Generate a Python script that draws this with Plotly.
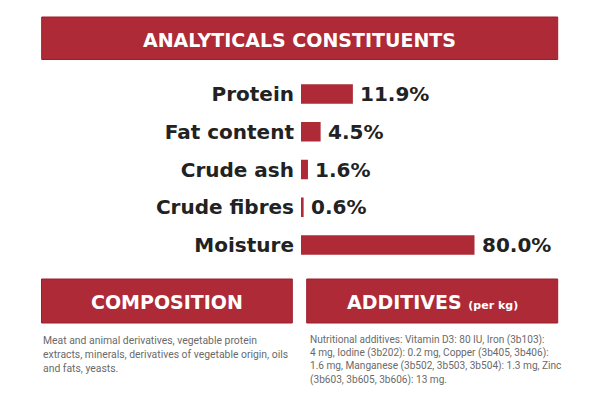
import plotly.graph_objects as go

# ---- data ----
categories = ["Protein", "Fat content", "Crude ash", "Crude fibres", "Moisture"]
values = [11.9, 4.5, 1.6, 0.6, 80.0]
value_labels = ["11.9%", "4.5%", "1.6%", "0.6%", "80.0%"]
title_main = "ANALYTICALS CONSTITUENTS"
title_comp = "COMPOSITION"
title_add = "ADDITIVES"
title_add_sub = "(per kg)"
comp_lines = [
    "Meat and animal derivatives, vegetable protein",
    "extracts, minerals, derivatives of vegetable origin, oils",
    "and fats, yeasts.",
]
add_lines = [
    "Nutritional additives: Vitamin D3: 80 IU, Iron (3b103):",
    "4 mg, Iodine (3b202): 0.2 mg, Copper (3b405, 3b406):",
    "1.6 mg, Manganese (3b502, 3b503, 3b504): 1.3 mg, Zinc",
    "(3b603, 3b605, 3b606): 13 mg.",
]

RED = "#AE2A37"
EDGE = "#9C1E2D"
DARK = "#222222"
GREY = "#6A6A6A"
W, H = 600, 400
XMAX = 39.8

def px(x):
    return x / W

def py(y):
    return 1 - y / H

fig = go.Figure()
fig.add_trace(go.Bar(
    x=values, y=categories, orientation="h",
    marker=dict(color=RED, line=dict(width=0)),
    width=0.52, hoverinfo="skip",
))

# value labels
for c, v, t in zip(categories, values, value_labels):
    fig.add_annotation(
        x=min(v, XMAX), y=c, xref="x", yref="y", text=t, showarrow=False,
        xanchor="left", yanchor="middle", xshift=5,
        font=dict(family="DejaVu Sans", size=20, color=DARK, weight="bold"),
    )

shapes = []
for (x0, y0, x1, y1) in [(41.7, 17, 557.7, 59.5), (41.5, 279, 292.3, 323), (306.7, 279, 557.7, 323)]:
    shapes.append(dict(type="rect", xref="paper", yref="paper",
                       x0=px(x0), x1=px(x1), y0=py(y1), y1=py(y0),
                       fillcolor=RED, line=dict(color=EDGE, width=1), layer="below"))

fig.add_annotation(x=px(299.7), y=py(39.5), xref="paper", yref="paper", text=title_main,
                   showarrow=False, xanchor="center", yanchor="middle",
                   font=dict(family="DejaVu Sans", size=19, color="white", weight="bold"))
fig.add_annotation(x=px(167), y=py(302), xref="paper", yref="paper", text=title_comp,
                   showarrow=False, xanchor="center", yanchor="middle",
                   font=dict(family="DejaVu Sans", size=19, color="white", weight="bold"))
fig.add_annotation(x=px(432.3), y=py(302), xref="paper", yref="paper",
                   text=title_add + " <span style='font-size:11px'>" + title_add_sub + "</span>",
                   showarrow=False, xanchor="center", yanchor="middle",
                   font=dict(family="DejaVu Sans", size=19, color="white", weight="bold"))

for i, line in enumerate(comp_lines):
    fig.add_annotation(x=px(41), y=py(340 + i * 14.3), xref="paper", yref="paper", text=line,
                       showarrow=False, xanchor="left", yanchor="middle",
                       font=dict(family="Roboto", size=10.4, color=GREY))
for i, line in enumerate(add_lines):
    fig.add_annotation(x=px(308), y=py(340 + i * 13.2), xref="paper", yref="paper", text=line,
                       showarrow=False, xanchor="left", yanchor="middle",
                       font=dict(family="Roboto", size=10.1, color=GREY))

fig.update_layout(
    width=W, height=H, margin=dict(l=0, r=0, t=0, b=0),
    paper_bgcolor="white", plot_bgcolor="white", showlegend=False,
    shapes=shapes,
    xaxis=dict(domain=[px(301), px(474.5)], range=[0, XMAX], visible=False, fixedrange=True),
    yaxis=dict(domain=[py(263.9), py(75.1)], autorange="reversed", showgrid=False,
               zeroline=False, showline=False, ticks="", ticklabelstandoff=6,
               tickfont=dict(family="DejaVu Sans", size=20, color=DARK, weight="bold")),
)

fig.write_html("out.html")
